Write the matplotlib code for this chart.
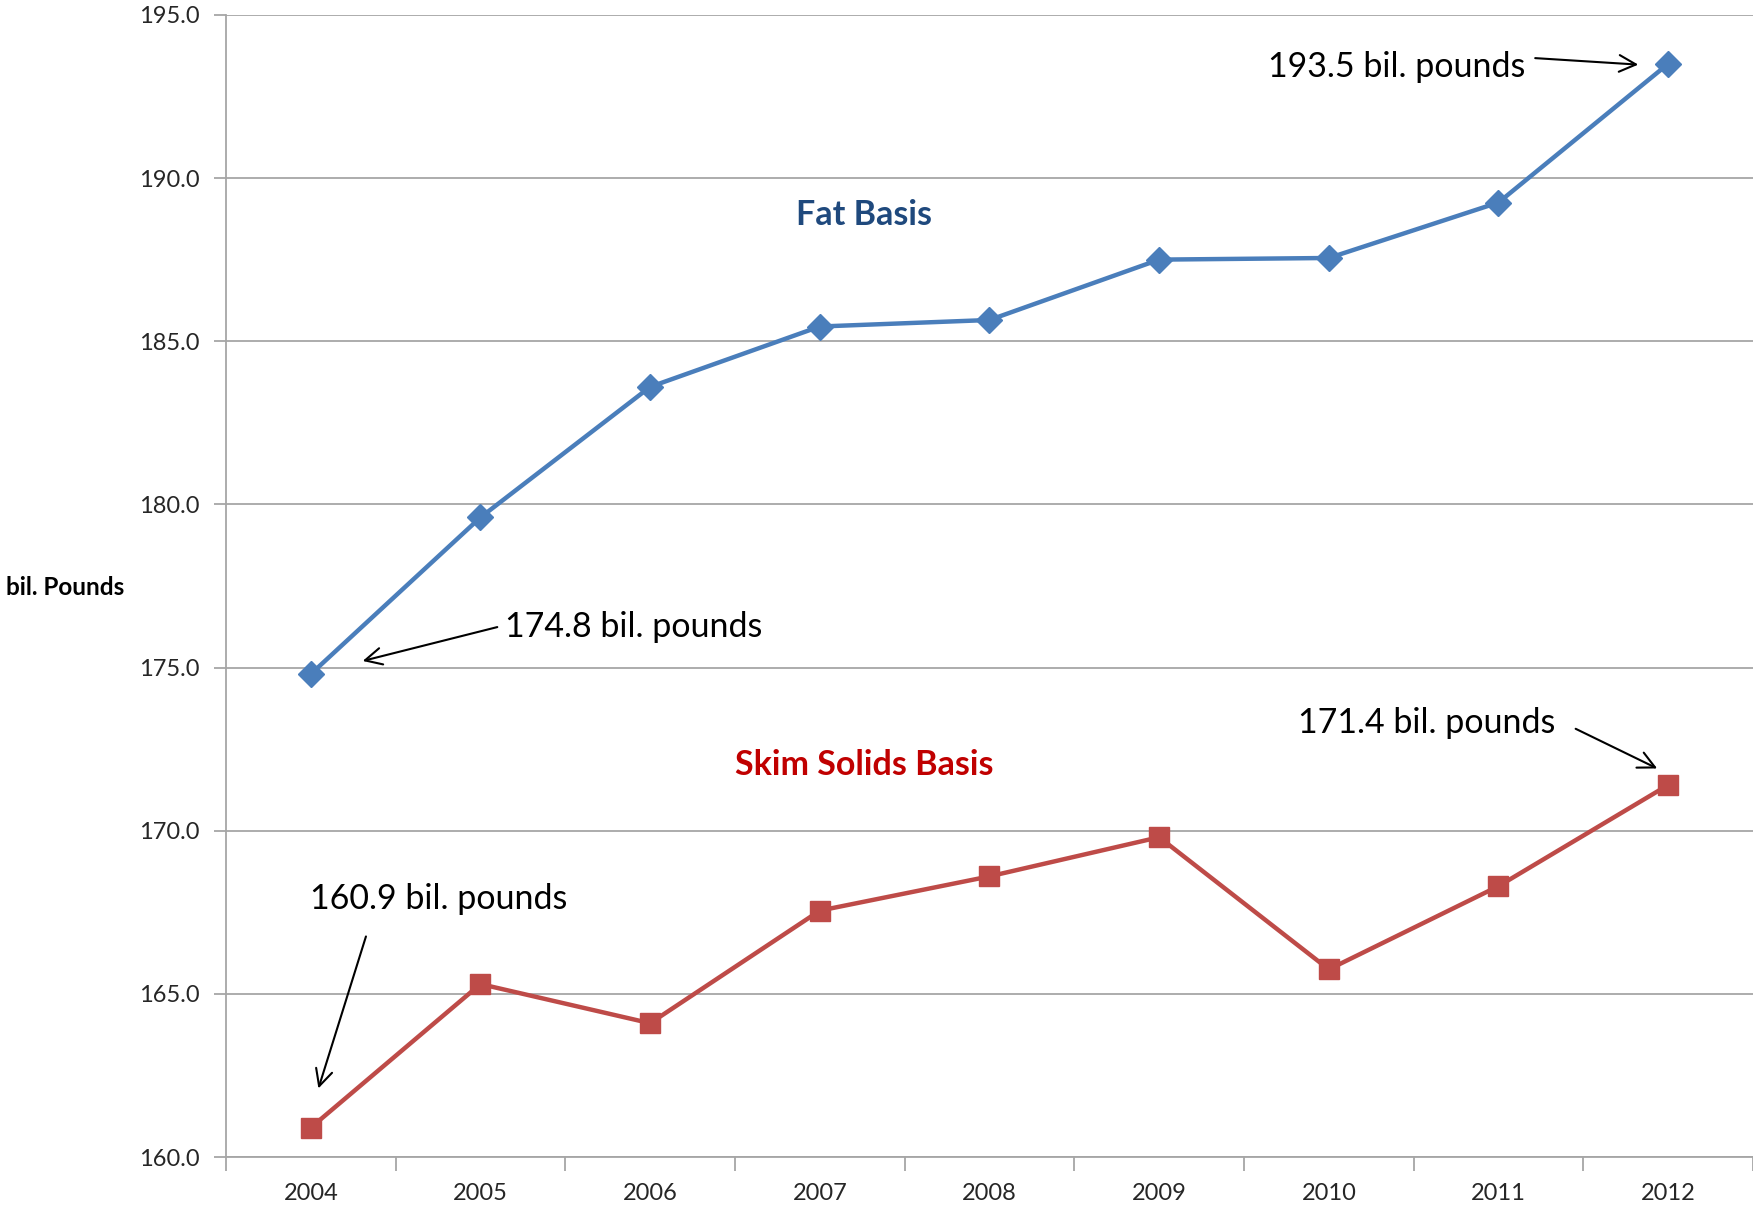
import matplotlib
matplotlib.use("Agg")
import matplotlib.pyplot as plt
import numpy as np

years = ["2004", "2005", "2006", "2007", "2008", "2009", "2010", "2011", "2012"]
fat_basis = [174.8, 179.6, 183.6, 185.45, 185.65, 187.5, 187.55, 189.25, 193.5]
skim_basis = [160.9, 165.3, 164.1, 167.55, 168.6, 169.8, 165.75, 168.3, 171.4]
y_ticks = [160.0, 165.0, 170.0, 175.0, 180.0, 185.0, 190.0, 195.0]

plt.rcParams['font.family'] = ['Lato', 'DejaVu Sans']

fig = plt.figure(figsize=(17.53, 12.09), dpi=100)
ax = fig.add_axes([0.1289, 0.043, 0.8711, 0.9447])

x = np.arange(len(years))
ax.plot(x, fat_basis, color='#4A7EBB', lw=3.2, marker='D', markersize=13, zorder=3)
ax.plot(x, skim_basis, color='#BE4B48', lw=3.2, marker='s', markersize=15, zorder=3)

ax.set_xlim(-0.5, len(years) - 0.5)
ax.set_ylim(160, 195)
ax.set_yticks(y_ticks)
ax.set_yticklabels([f"{v:.1f}" for v in y_ticks])
ax.set_xticks(x)
ax.set_xticklabels(years)
ax.set_xticks(np.arange(-0.5, len(years), 1.0), minor=True)

ax.grid(axis='y', color='#A6A6A6', lw=1.3)
ax.set_axisbelow(True)
for s in ['top', 'right']:
    ax.spines[s].set_visible(False)
for s in ['left', 'bottom']:
    ax.spines[s].set_color('#A6A6A6')
    ax.spines[s].set_linewidth(1.3)

ax.tick_params(axis='y', length=9, width=1.3, color='#A6A6A6', labelsize=17, pad=10, labelcolor='#262626')
ax.tick_params(axis='x', which='major', length=0, labelsize=17, pad=19, labelcolor='#262626')
ax.tick_params(axis='x', which='minor', length=10, width=1.3, color='#A6A6A6')

ax.text(-1.45, 177.45, "bil. Pounds", fontsize=17.5, fontweight='bold',
        ha='center', va='center', clip_on=False)

ax.text(3.26, 188.86, "Fat Basis", color='#1F497D', fontsize=24.5, fontweight='bold', ha='center', va='center')
ax.text(3.26, 172.01, "Skim Solids Basis", color='#C00000', fontsize=24.5, fontweight='bold', ha='center', va='center')

arrow = dict(arrowstyle='->', color='black', lw=1.5, mutation_scale=30)
ann_fs = 24.5
# 2012 fat
ax.annotate("", xy=(7.84, 193.47), xytext=(7.2, 193.68), arrowprops=arrow)
ax.text(7.16, 193.41, "193.5 bil. pounds", fontsize=ann_fs, ha='right', va='center')
# 2004 fat
ax.annotate("", xy=(0.29, 175.18), xytext=(1.115, 176.26), arrowprops=arrow)
ax.text(1.144, 176.23, "174.8 bil. pounds", fontsize=ann_fs, ha='left', va='center')
# 2012 skim
ax.annotate("", xy=(7.95, 171.87), xytext=(7.44, 173.16), arrowprops=arrow)
ax.text(5.82, 173.3, "171.4 bil. pounds", fontsize=ann_fs, ha='left', va='center')
# 2004 skim
ax.annotate("", xy=(0.04, 162.02), xytext=(0.33, 166.84), arrowprops=arrow)
ax.text(-0.005, 167.9, "160.9 bil. pounds", fontsize=ann_fs, ha='left', va='center')

fig.savefig("out.png", dpi=100)
